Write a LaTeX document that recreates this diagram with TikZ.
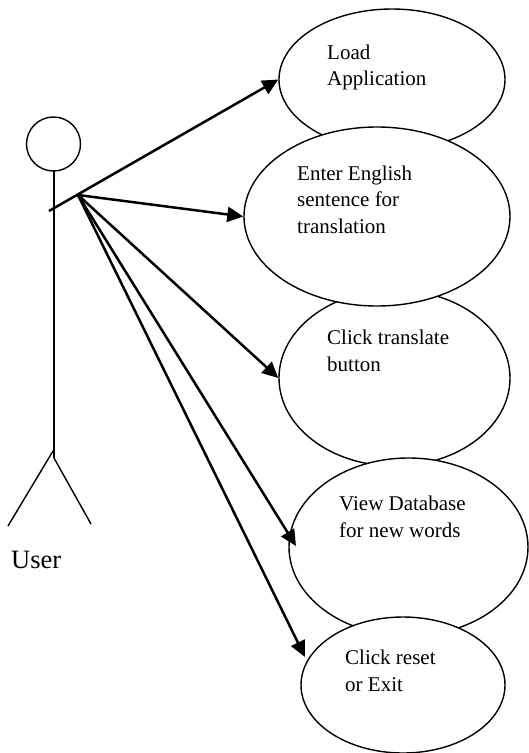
\documentclass[tikz,border=0pt]{standalone}
\usepackage{fontspec}
\setmainfont{Liberation Serif}
\usetikzlibrary{arrows.meta,shapes.geometric}
\tikzset{
  usecase/.style={draw,ellipse,fill=white,line width=1.4pt,inner sep=0pt},
  casetext/.style={anchor=base west,inner sep=0pt,align=left,font=\fontsize{21}{26.7}\selectfont},
  actorline/.style={line width=1.4pt},
  assoc/.style={line width=2.5pt,-{Triangle[length=16pt,width=15pt]}}
}
\begin{document}
\begin{tikzpicture}[x=1pt,y=-1pt]
      \useasboundingbox (0,0) rectangle (528,753);
      \draw
        (392,79.5) node[usecase,minimum width=226pt,minimum height=141pt] (load){}
        (394.5,378) node[usecase,minimum width=231pt,minimum height=176pt] (translate){}
        (377,216.5) node[usecase,minimum width=266pt,minimum height=179pt] (enter){}
        (408.5,547) node[usecase,minimum width=239pt,minimum height=178pt] (view){}
        (403,685) node[usecase,minimum width=204pt,minimum height=136pt] (reset){};
      \draw
        (327,85.7) node[casetext] (loadtext){Load\\Application}
        (297,233.5) node[casetext] (entertext){Enter English\\sentence for\\translation}
        (327,371.5) node[casetext] (translatetext){Click translate\\button}
        (339,537) node[casetext] (viewtext){View Database\\for new words}
        (345,691) node[casetext] (resettext){Click reset\\or Exit}
        (11,568) node[anchor=base west,inner sep=0pt,font=\fontsize{26.5}{30}\selectfont] (usertext){User};
      \draw[actorline] (53.5,144) node[draw,circle,line width=1.4pt,minimum size=54pt,inner sep=0pt] (head){};
      \coordinate (hip) at (54,458);
      \coordinate (crotch) at (53,451);
      \coordinate (leftfoot) at (8,526);
      \coordinate (rightfoot) at (91,524);
      \coordinate (hand) at (49,211);
      \coordinate (shoulder) at (78,195);
      \coordinate (viewtip) at (296,546);
      \coordinate (resettip) at (305,657);
      \draw[actorline] (head.south) ++(0.5,-2) to (hip);
      \draw[actorline] (crotch) to (leftfoot);
      \draw[actorline] (hip) to (rightfoot);
      \begin{scope}[assoc]
        \draw (hand) to (load.west);
        \draw (shoulder) to (enter.west);
        \draw (shoulder) to (translate.west);
        \draw (shoulder) to (viewtip);
        \draw (shoulder) to (resettip);
      \end{scope}
    \end{tikzpicture}
\end{document}
